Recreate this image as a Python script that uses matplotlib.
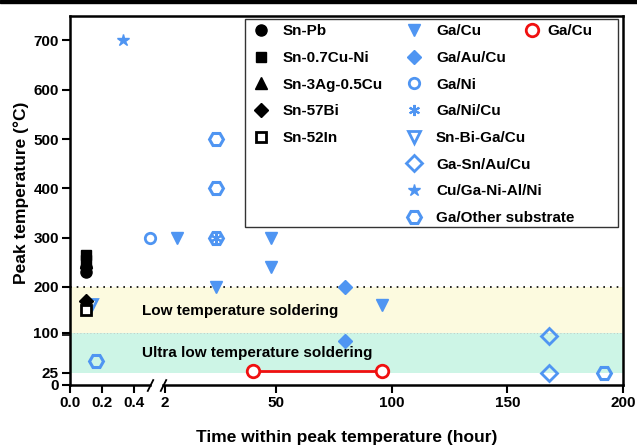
import numpy as np
import matplotlib
matplotlib.use("Agg")
import matplotlib.pyplot as plt
from matplotlib.lines import Line2D
from matplotlib.patches import Rectangle
from matplotlib.transforms import blended_transform_factory

plt.rcParams['font.family'] = ['Liberation Sans', 'DejaVu Sans']
plt.rcParams['font.weight'] = 'bold'
plt.rcParams['axes.labelweight'] = 'bold'

BLUE = '#4f95f2'
RED = '#f01010'

# Sn-based reference solders (black)
sn_pb_x = [0.1, 0.1]
sn_pb_y = [230, 240]
sn_cu_ni_x = [0.1, 0.1]
sn_cu_ni_y = [255, 265]
sac_x = [0.1]
sac_y = [250]
sn_bi_x = [0.1]
sn_bi_y = [170]
sn_in_x = [0.1]
sn_in_y = [150]

# Ga-based bonding (blue)
ga_cu_x = [7, 24, 48, 48, 96]
ga_cu_y = [300, 200, 300, 240, 160]
ga_au_cu_x = [80, 80]
ga_au_cu_y = [200, 85]
ga_ni_x = [0.5]
ga_ni_y = [300]
ga_ni_cu_x = [24]
ga_ni_cu_y = [300]
sn_bi_ga_x = [0.13]
sn_bi_ga_y = [160]
ga_sn_x = [168, 168]
ga_sn_y = [95, 25]
cu_ga_ni_x = [0.33]
cu_ga_ni_y = [700]
other_x = [24, 24, 24, 0.16, 192]
other_y = [500, 400, 300, 48, 25]

# this work: Ga/Cu room temperature range (red)
red_x = [40, 96]
red_y = [28, 28]

xticks = [0, 0.2, 0.4, 2, 50, 100, 150, 200]
xticklabels = ['0.0', '0.2', '0.4', '2', '50', '100', '150', '200']
yticks = [0, 25, 100, 200, 300, 400, 500, 600, 700]

# piecewise axis: 0-0.5 h stretched, gap, then 2-200 h
xk = np.array([-10, 0, 0.5, 2, 200, 2000])
xu = np.array([-1600, 0, 80, 95, 553, 553 + 1800 * 2.318])
yk = np.array([-200, 0, 25, 100, 200, 3000])
yu = np.array([-98, 0, 12.3, 52, 98, 98 + 2800 * 0.493])


def fx(x):
    return np.interp(x, xk, xu)


def fx_inv(u):
    return np.interp(u, xu, xk)


def fy(y):
    return np.interp(y, yk, yu)


def fy_inv(u):
    return np.interp(u, yu, yk)


fig = plt.figure(figsize=(6.37, 4.47), dpi=100)
ax = fig.add_axes([70 / 637, 1 - 385 / 447, 553 / 637, 369.3 / 447])
ax.set_xscale('function', functions=(fx, fx_inv))
ax.set_yscale('function', functions=(fy, fy_inv))
ax.set_xlim(0, 200)
ax.set_ylim(0, 750)

ax.axhspan(25, 100, color='#cdf5e6', lw=0, zorder=0)
ax.axhspan(100, 200, color='#fcfadf', lw=0, zorder=0)
ax.axhline(200, color='black', ls=(0, (1, 3)), lw=1.2, zorder=1)
ax.axhline(100, color='#bbbbbb', ls=(0, (1, 3)), lw=0.6, zorder=1)

ax.text(0.13, 147, 'Low temperature soldering', transform=ax.get_yaxis_transform(),
        fontsize=11, va='center', ha='left')
ax.text(0.13, 63, 'Ultra low temperature soldering', transform=ax.get_yaxis_transform(),
        fontsize=11, va='center', ha='left')

blk = dict(color='black', ls='none', zorder=3)
ax.plot(sn_cu_ni_x, sn_cu_ni_y, marker='s', ms=7.5, label='Sn-0.7Cu-Ni', **blk)
ax.plot(sac_x, sac_y, marker='^', ms=8, label='Sn-3Ag-0.5Cu', **blk)
ax.plot(sn_pb_x, sn_pb_y, marker='o', ms=8, label='Sn-Pb', **blk)
ax.plot(sn_bi_x, sn_bi_y, marker='D', ms=7, label='Sn-57Bi', **blk)
ax.plot(sn_in_x, sn_in_y, marker='s', ms=7, mfc='white', mew=2, label='Sn-52In', **blk)

blu = dict(color=BLUE, ls='none', zorder=2)
ax.plot(ga_cu_x, ga_cu_y, marker='v', ms=9, label='Ga/Cu', **blu)
ax.plot(ga_au_cu_x, ga_au_cu_y, marker='D', ms=7, label='Ga/Au/Cu', **blu)
ax.plot(ga_ni_x, ga_ni_y, marker='o', ms=7.5, mfc='none', mew=2, label='Ga/Ni', **blu)
ax.plot(ga_ni_cu_x, ga_ni_cu_y, marker=(6, 2, 0), ms=8, mew=1.5, label='Ga/Ni/Cu', **blu)
ax.plot(sn_bi_ga_x, sn_bi_ga_y, marker='v', ms=9, mfc='none', mew=2, label='Sn-Bi-Ga/Cu', **blu)
ax.plot(ga_sn_x, ga_sn_y, marker='D', ms=8, mfc='none', mew=2, label='Ga-Sn/Au/Cu', **blu)
ax.plot(cu_ga_ni_x, cu_ga_ni_y, marker='*', ms=9, label='Cu/Ga-Ni-Al/Ni', **blu)
ax.plot(other_x, other_y, marker='H', ms=10, mfc='none', mew=2.2, label='Ga/Other substrate', **blu)

ax.plot(red_x, red_y, color=RED, lw=2, zorder=4)
ax.plot(red_x, red_y, ls='none', marker='o', ms=9, mfc='white', mec=RED, mew=2,
        label='Ga/Cu ', zorder=5)

ax.set_xticks(xticks)
ax.set_xticklabels(xticklabels)
ax.set_yticks(yticks)
ax.set_yticks([96], minor=True)
ax.xaxis.set_minor_locator(matplotlib.ticker.NullLocator())
ax.tick_params(axis='both', which='both', direction='out', length=6, width=1.5,
               labelsize=11, pad=2)
ax.tick_params(axis='y', which='minor', length=6, width=1.2)
ax.tick_params(axis='x', which='major', top=False)
for lbl in ax.get_xticklabels() + ax.get_yticklabels():
    lbl.set_fontweight('bold')

for s in ['left', 'top', 'right']:
    ax.spines[s].set_linewidth(1.8)
ax.spines['bottom'].set_visible(False)

# broken bottom axis drawn in two pieces with slashes
tr = blended_transform_factory(ax.transData, ax.transAxes)
ax.plot([0, 0.5], [0, 0], color='black', lw=1.8, transform=tr, clip_on=False, zorder=6)
ax.plot([1.8, 200], [0, 0], color='black', lw=1.8, transform=tr, clip_on=False, zorder=6)
slash = [(-0.5, -1), (0.5, 1)]
ax.plot([0.5, 1.8], [0, 0], ls='none', marker=slash, ms=9, mew=1.3, color='black',
        transform=tr, clip_on=False, zorder=6)

ax.set_xlabel('Time within peak temperature (hour)', fontsize=12.5, labelpad=14)
ax.set_ylabel('Peak temperature (°C)', fontsize=12.5)
ax.yaxis.set_label_coords(-0.074, 0.52)

blank = Line2D([], [], ls='none')
handles, labels = ax.get_legend_handles_labels()
lookup = dict(zip(labels, handles))
order1 = ['Sn-Pb', 'Sn-0.7Cu-Ni', 'Sn-3Ag-0.5Cu', 'Sn-57Bi', 'Sn-52In']
order2 = ['Ga/Cu', 'Ga/Au/Cu', 'Ga/Ni', 'Ga/Ni/Cu', 'Sn-Bi-Ga/Cu', 'Ga-Sn/Au/Cu',
          'Cu/Ga-Ni-Al/Ni', 'Ga/Other substrate']
h1 = [lookup[k] for k in order1] + [blank] * 3 + [lookup[k] for k in order2]
l1 = order1 + [''] * 3 + order2
leg1 = ax.legend(h1, l1, ncol=2, loc='upper left', bbox_to_anchor=(0.331, 0.977),
                 frameon=False, fontsize=11, handlelength=1.0, handletextpad=0.94,
                 columnspacing=1.53, labelspacing=0.83, borderpad=0, borderaxespad=0)
ax.add_artist(leg1)
ax.legend([lookup['Ga/Cu ']], ['Ga/Cu'], loc='upper left', bbox_to_anchor=(0.822, 0.977),
          frameon=False, fontsize=11, handlelength=1.0, handletextpad=0.48,
          borderpad=0, borderaxespad=0)
ax.add_patch(Rectangle((0.3165, 0.428), 0.6745, 0.563, transform=ax.transAxes,
                       fill=False, ec='#333333', lw=1.0, zorder=7, clip_on=False))

fig.add_artist(Rectangle((0, 1 - 3 / 447), 1, 3 / 447, transform=fig.transFigure,
                         color='black'))

fig.savefig('out.png', dpi=100)
